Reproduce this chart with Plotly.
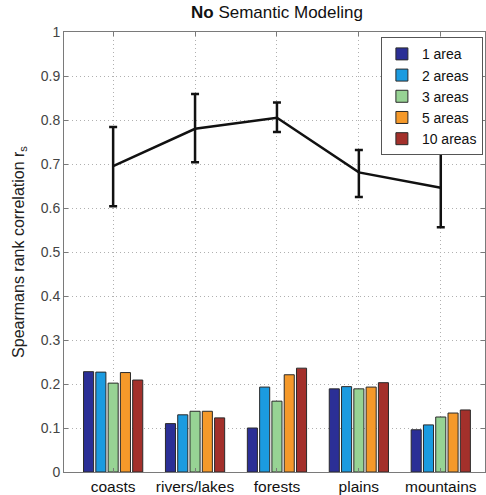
import plotly.graph_objects as go

categories = ["coasts", "rivers/lakes", "forests", "plains", "mountains"]
series_names = ["1 area", "2 areas", "3 areas", "5 areas", "10 areas"]
series_values = [
    [0.228, 0.110, 0.100, 0.189, 0.096],
    [0.227, 0.130, 0.193, 0.194, 0.107],
    [0.202, 0.138, 0.161, 0.189, 0.125],
    [0.226, 0.138, 0.221, 0.193, 0.134],
    [0.209, 0.123, 0.236, 0.203, 0.141],
]
series_colors = ["#2b2f96", "#1b9be0", "#97d394", "#f5992a", "#a3302b"]

line_mean = [0.695, 0.780, 0.805, 0.681, 0.646]
line_upper = [0.784, 0.859, 0.840, 0.732, 0.735]
line_lower = [0.604, 0.704, 0.773, 0.625, 0.556]

y_ticks = [0, 0.1, 0.2, 0.3, 0.4, 0.5, 0.6, 0.7, 0.8, 0.9, 1]
y_ticklabels = ["0", "0.1", "0.2", "0.3", "0.4", "0.5", "0.6", "0.7", "0.8", "0.9", "1"]

fig = go.Figure()
for name, vals, col in zip(series_names, series_values, series_colors):
    fig.add_trace(go.Bar(
        x=categories, y=vals, name=name,
        marker=dict(color=col, line=dict(color="#2a2a2a", width=1)),
    ))

err_plus = [u - m for u, m in zip(line_upper, line_mean)]
err_minus = [m - l for m, l in zip(line_mean, line_lower)]
fig.add_trace(go.Scatter(
    x=categories, y=line_mean, mode="lines", showlegend=False,
    line=dict(color="#111111", width=2.5),
    error_y=dict(type="data", symmetric=False, array=err_plus, arrayminus=err_minus,
                 color="#111111", thickness=2.5, width=4),
))

axis_common = dict(
    showline=True, linecolor="#7a7a7a", linewidth=1, mirror="ticks",
    ticks="inside", ticklen=4, tickcolor="#7a7a7a",
    showgrid=True, gridcolor="#b0b0b0", griddash="1px,3px", gridwidth=1,
    zeroline=False,
)

fig.update_layout(
    width=486, height=495,
    margin=dict(l=64, r=1, t=32, b=23),
    paper_bgcolor="white", plot_bgcolor="white",
    barmode="group", bargap=0.25, bargroupgap=0.18,
    font=dict(family="Liberation Sans, Arial, sans-serif", color="#222222"),
    title=dict(text="<b>No</b> Semantic Modeling", x=0.57, xanchor="center",
               y=0.988, yanchor="top", font=dict(size=17, color="#111111")),
    xaxis=dict(axis_common, range=[-0.6, 4.54], tickfont=dict(size=15.5, color="#111111"),
               automargin=False),
    yaxis=dict(axis_common, range=[0, 1], tickvals=y_ticks, ticktext=y_ticklabels,
               tickfont=dict(size=14, color="#444444"),
               title=dict(text="Spearmans rank correlation r<sub>s</sub>",
                          font=dict(size=16, color="#222222"), standoff=12)),
    legend=dict(x=0.995, xanchor="right", y=0.988, yanchor="top",
                bgcolor="white", bordercolor="#555555", borderwidth=1,
                font=dict(size=14, color="#111111"), tracegroupgap=0,
                itemwidth=30, traceorder="normal"),
)

fig.write_html("out.html")
